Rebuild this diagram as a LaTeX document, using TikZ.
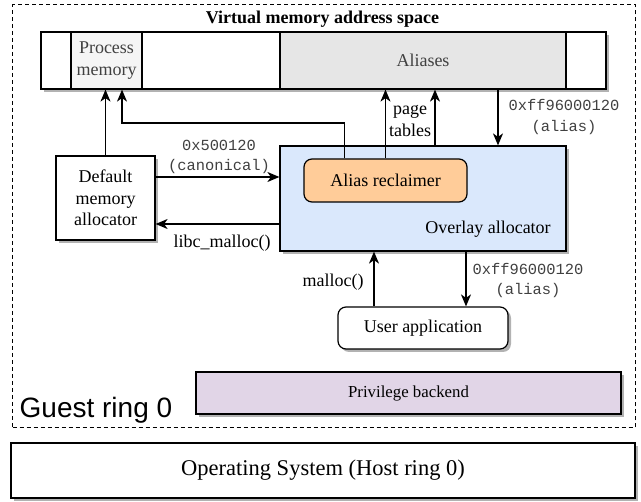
\documentclass[tikz,border=0pt]{standalone}
\usepackage{fontspec}
\setmainfont{Liberation Serif}
\setmonofont{Liberation Mono}
\newfontfamily\guestfont{Liberation Sans}
\usetikzlibrary{arrows.meta,shadows,positioning}

\begin{document}
\begin{tikzpicture}[x=1pt,y=-1pt,
        box/.style={draw, line width=1.2pt, inner sep=0pt, align=center, font=\fontsize{18}{21.5}\selectfont},
        shade/.style={drop shadow={shadow xshift=3pt, shadow yshift=-3pt, fill=black!30, opacity=1}},
        flow/.style={line width=1.2pt, -{Stealth[length=12pt,width=10pt,inset=3.5pt]}},
        lbl/.style={inner sep=0pt, align=center, font=\fontsize{18}{21.5}\selectfont},
        addr/.style={inner sep=0pt, align=center, text=black!75, font=\ttfamily\fontsize{15.4}{20}\selectfont}]
        % Define colors
        \definecolor{overlayblue}{HTML}{DAE8FC}
        \definecolor{reclaimorange}{HTML}{FFCC99}
        \definecolor{backendpurple}{HTML}{E1D5E7}
        \definecolor{aliasgray}{HTML}{E6E6E6}
        \definecolor{procgray}{HTML}{F5F5F5}

        \useasboundingbox (0,0) rectangle (641,502);

        % Guest ring 0 frame
        \node[draw, line width=1pt, dash pattern=on 4pt off 3pt, minimum width=622.5, minimum height=423, inner sep=0pt] (guest) at (323.75,216.5) {};
        \node[anchor=base west, inner sep=0pt, font=\guestfont\fontsize{28}{30}\selectfont] (guestlbl) at (19.5,418) {Guest ring 0};

        % Virtual address space bar
        \node[font=\bfseries\fontsize{18}{21}\selectfont, inner sep=0pt] (vtitle) at (322.5,19) {Virtual memory address space};
        \node[box, shade, fill=white, minimum width=565, minimum height=57] (vspace) at (323.5,60.5) {};
        \node[box, fill=procgray, text=black!75, minimum width=71, minimum height=57] (procmem) at (106.5,60.5) {Process\\memory};
        \node[box, fill=aliasgray, text=black!75, minimum width=286, minimum height=57] (aliases) at (423,60.5) {Aliases};

        % Allocators
        \node[box, shade, fill=white, minimum width=99, minimum height=84] (dflt) at (105.5,198) {Default\\memory\\allocator};
        \node[box, shade, fill=overlayblue, minimum width=286, minimum height=105] (overlay) at (423,198.5) {};
        \node[box, fill=reclaimorange, rounded corners=8pt, minimum width=163, minimum height=43] (reclaimer) at (385.5,180.5) {Alias reclaimer};
        \node[lbl] (overlaylbl) at (488,229) {Overlay allocator};

        % Application and backends
        \node[box, shade, fill=white, rounded corners=8pt, minimum width=170, minimum height=42] (userapp) at (423,328) {User application};
        \node[box, shade, fill=backendpurple, minimum width=425, minimum height=42, font=\fontsize{16.8}{20}\selectfont] (backend) at (408.5,393) {Privilege backend};
        \node[box, shade, fill=white, minimum width=624, minimum height=55, font=\fontsize{22.5}{26}\selectfont] (os) at (323,470.5) {Operating System (Host ring 0)};

        % Connectors into the address space
        \draw[flow] (dflt.north) -- (dflt.north |- vspace.south);
        \coordinate (bend) at (122,123);
        \draw[flow] ([xshift=41pt]reclaimer.north west) |- (bend) -- (bend |- vspace.south);
        \draw[flow] (reclaimer.north) -- (reclaimer.north |- vspace.south);
        \coordinate (ptab) at ([xshift=12pt]overlay.north);
        \draw[flow] (ptab) -- (ptab |- vspace.south);
        \node[lbl] (ptablbl) at (410,121) {page\\tables};
        \coordinate (aliasin) at ([xshift=75pt]overlay.north);
        \draw[flow] (aliasin |- vspace.south) -- (aliasin);
        \node[addr, font=\ttfamily\fontsize{15.4}{21}\selectfont] (aliaslbl) at (564,117.5) {0xff96000120\\(alias)};

        % Default allocator <-> overlay allocator
        \coordinate (canon) at ([yshift=21pt]dflt.east);
        \draw[flow] (canon) -- (canon -| overlay.west);
        \node[addr] (canonlbl) at (219,156.5) {0x500120\\(canonical)};
        \coordinate (libc) at ([yshift=-26pt]dflt.east);
        \draw[flow] (libc -| overlay.west) -- (libc);
        \node[lbl] (libclbl) at (222,243) {libc\_malloc()};

        % User application <-> overlay allocator
        \coordinate (mcall) at ([xshift=-49pt]userapp.north);
        \draw[flow] (mcall) -- (mcall |- overlay.south);
        \node[lbl] (malloclbl) at (333,282) {malloc()};
        \coordinate (mret) at ([xshift=43pt]userapp.north);
        \draw[flow] (mret |- overlay.south) -- (mret);
        \node[addr] (retlbl) at (528,280.5) {0xff96000120\\(alias)};
\end{tikzpicture}
\end{document}
